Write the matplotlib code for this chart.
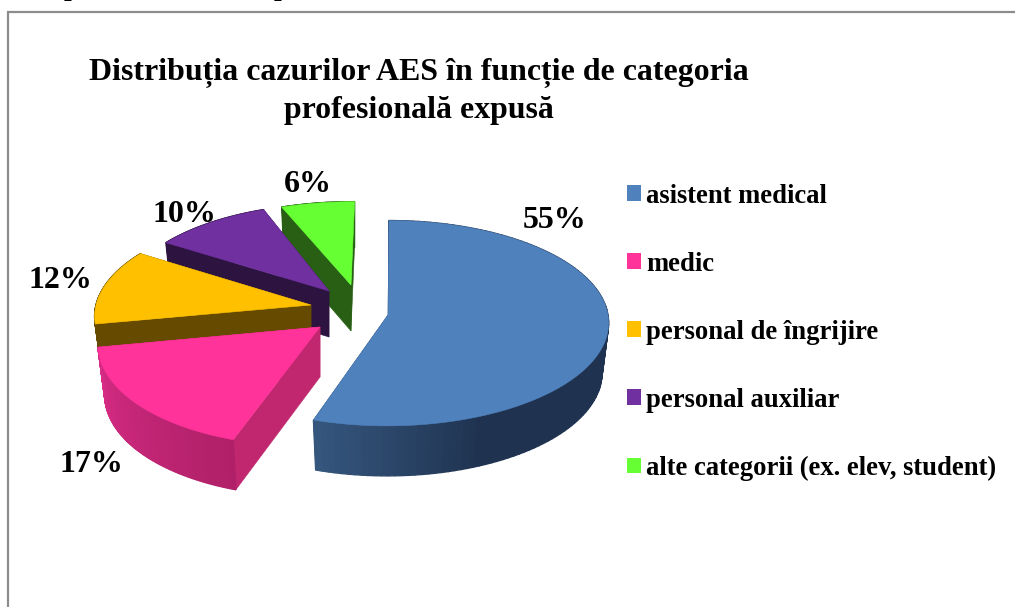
import numpy as np
import matplotlib
matplotlib.use("Agg")
import matplotlib.pyplot as plt
from matplotlib.patches import Patch
from matplotlib.colors import to_rgb

title = "Distribuția cazurilor AES în funcție de categoria\nprofesională expusă"
categories = ["asistent medical", "medic", "personal de îngrijire", "personal auxiliar",
              "alte categorii (ex. elev, student)"]
values = [55, 17, 12, 10, 6]
colors = ["#4F81BD", "#FF3399", "#FFC000", "#7030A0", "#66FF33"]
rim_start = ["#1F3350", "#B02068", "#664A00", "#2C1340", "#285F14"]
rim_end = ["#36577F", "#D82C86", "#664A00", "#2C1340", "#285F14"]
side_colors = ["#1F3350", "#C0276F", "#664A00", "#2C1340", "#285F14"]

# slice geometry in pixels: apex, radius, vertical radius, perspective
apex = [(388, 315), (320, 327), (311, 305), (329, 291), (351, 285)]
radius = [220, 219, 215, 205, 212]
vradius = [102, 105, 100, 94, 90]
persp = [0.08, 0.12, 0.08, 0.08, 0.08]
label_pos = [(555, 221), (91, 464), (60, 280), (184, 214), (308, 184)]
vx = 400
depth = 46

fig = plt.figure(figsize=(10.15, 6.07), dpi=100)
ax = fig.add_axes([0, 0, 1, 1])
ax.set_xlim(0, 1015)
ax.set_ylim(607, 0)
ax.axis("off")
serif = "Liberation Serif"

# frame of the chart
ax.plot([8.5, 8.5, 1015], [607, 11.5, 11.5], color="#8C8C8C", lw=1.6,
        solid_joinstyle="miter")


def top_point(i, th):
    u, v = np.sin(th), -np.cos(th)
    s = 1 / (1 - persp[i] * v)
    ax0, ay0 = apex[i]
    return vx + (ax0 + radius[i] * u - vx) * s, ay0 + vradius[i] * v * s


def bottom(x, y, i):
    k = depth + 4 * (1 if i < 2 else 0)
    return apex[i][0] + (x - apex[i][0]) * 0.97, y + k


edges = np.concatenate([[0], np.cumsum(values)]) / sum(values) * 2 * np.pi

for i in [4, 3, 2, 1, 0]:
    ths = np.linspace(edges[i], edges[i + 1], 120)
    xs, ys = top_point(i, ths)
    bx, by = bottom(xs, ys, i)
    ax0, ay0 = apex[i]
    abx, aby = bottom(np.array(ax0), np.array(ay0), i)
    z = i * -3 + 20
    # cut faces
    for k in (0, -1):
        ax.fill([ax0, xs[k], bx[k], abx], [ay0, ys[k], by[k], aby], color=side_colors[i],
                lw=0.4, zorder=z)
    # rim with a gradient
    c0, c1 = np.array(to_rgb(rim_start[i])), np.array(to_rgb(rim_end[i]))
    for j in range(len(ths) - 1):
        deg = np.degrees(ths[j])
        t = np.clip((deg - np.degrees(edges[i])) / np.degrees(edges[i + 1] - edges[i]), 0, 1)
        if i == 0:
            t = np.clip((deg - 156) / 42, 0, 1)
        col = c0 + (c1 - c0) * t
        ax.fill([xs[j], xs[j + 1], bx[j + 1], bx[j]], [ys[j], ys[j + 1], by[j + 1], by[j]],
                color=col, lw=1, zorder=z + 1)
    # top face
    ax.fill(np.r_[ax0, xs], np.r_[ay0, ys], color=colors[i], lw=0.4, zorder=z + 2)

for v, (lx, ly) in zip(values, label_pos):
    ax.text(lx, ly, f"{v}%", family=serif, weight="bold", fontsize=23, ha="center",
            va="center", color="black", zorder=40)

ax.text(418.5, 91.5, title, family=serif, weight="bold", fontsize=22.95, ha="center", va="center",
        linespacing=1.35, color="black")

handles = [Patch(facecolor=c, edgecolor="none") for c in colors]
ax.legend(handles, categories, loc="upper left", bbox_to_anchor=(627 / 1015, 1 - 183.5 / 607),
          frameon=False, prop={"family": serif, "weight": "bold", "size": 19.2},
          handlelength=0.525, handleheight=0.525, handletextpad=0.19, labelspacing=1.615,
          borderpad=0, borderaxespad=0)

# descenders of the cropped page text above the chart
for px in (71, 281):
    ax.text(px, -5, "p", family=serif, weight="bold", fontsize=20, ha="center", va="baseline",
            color="black", clip_on=True)

fig.savefig("out.png", dpi=100)
